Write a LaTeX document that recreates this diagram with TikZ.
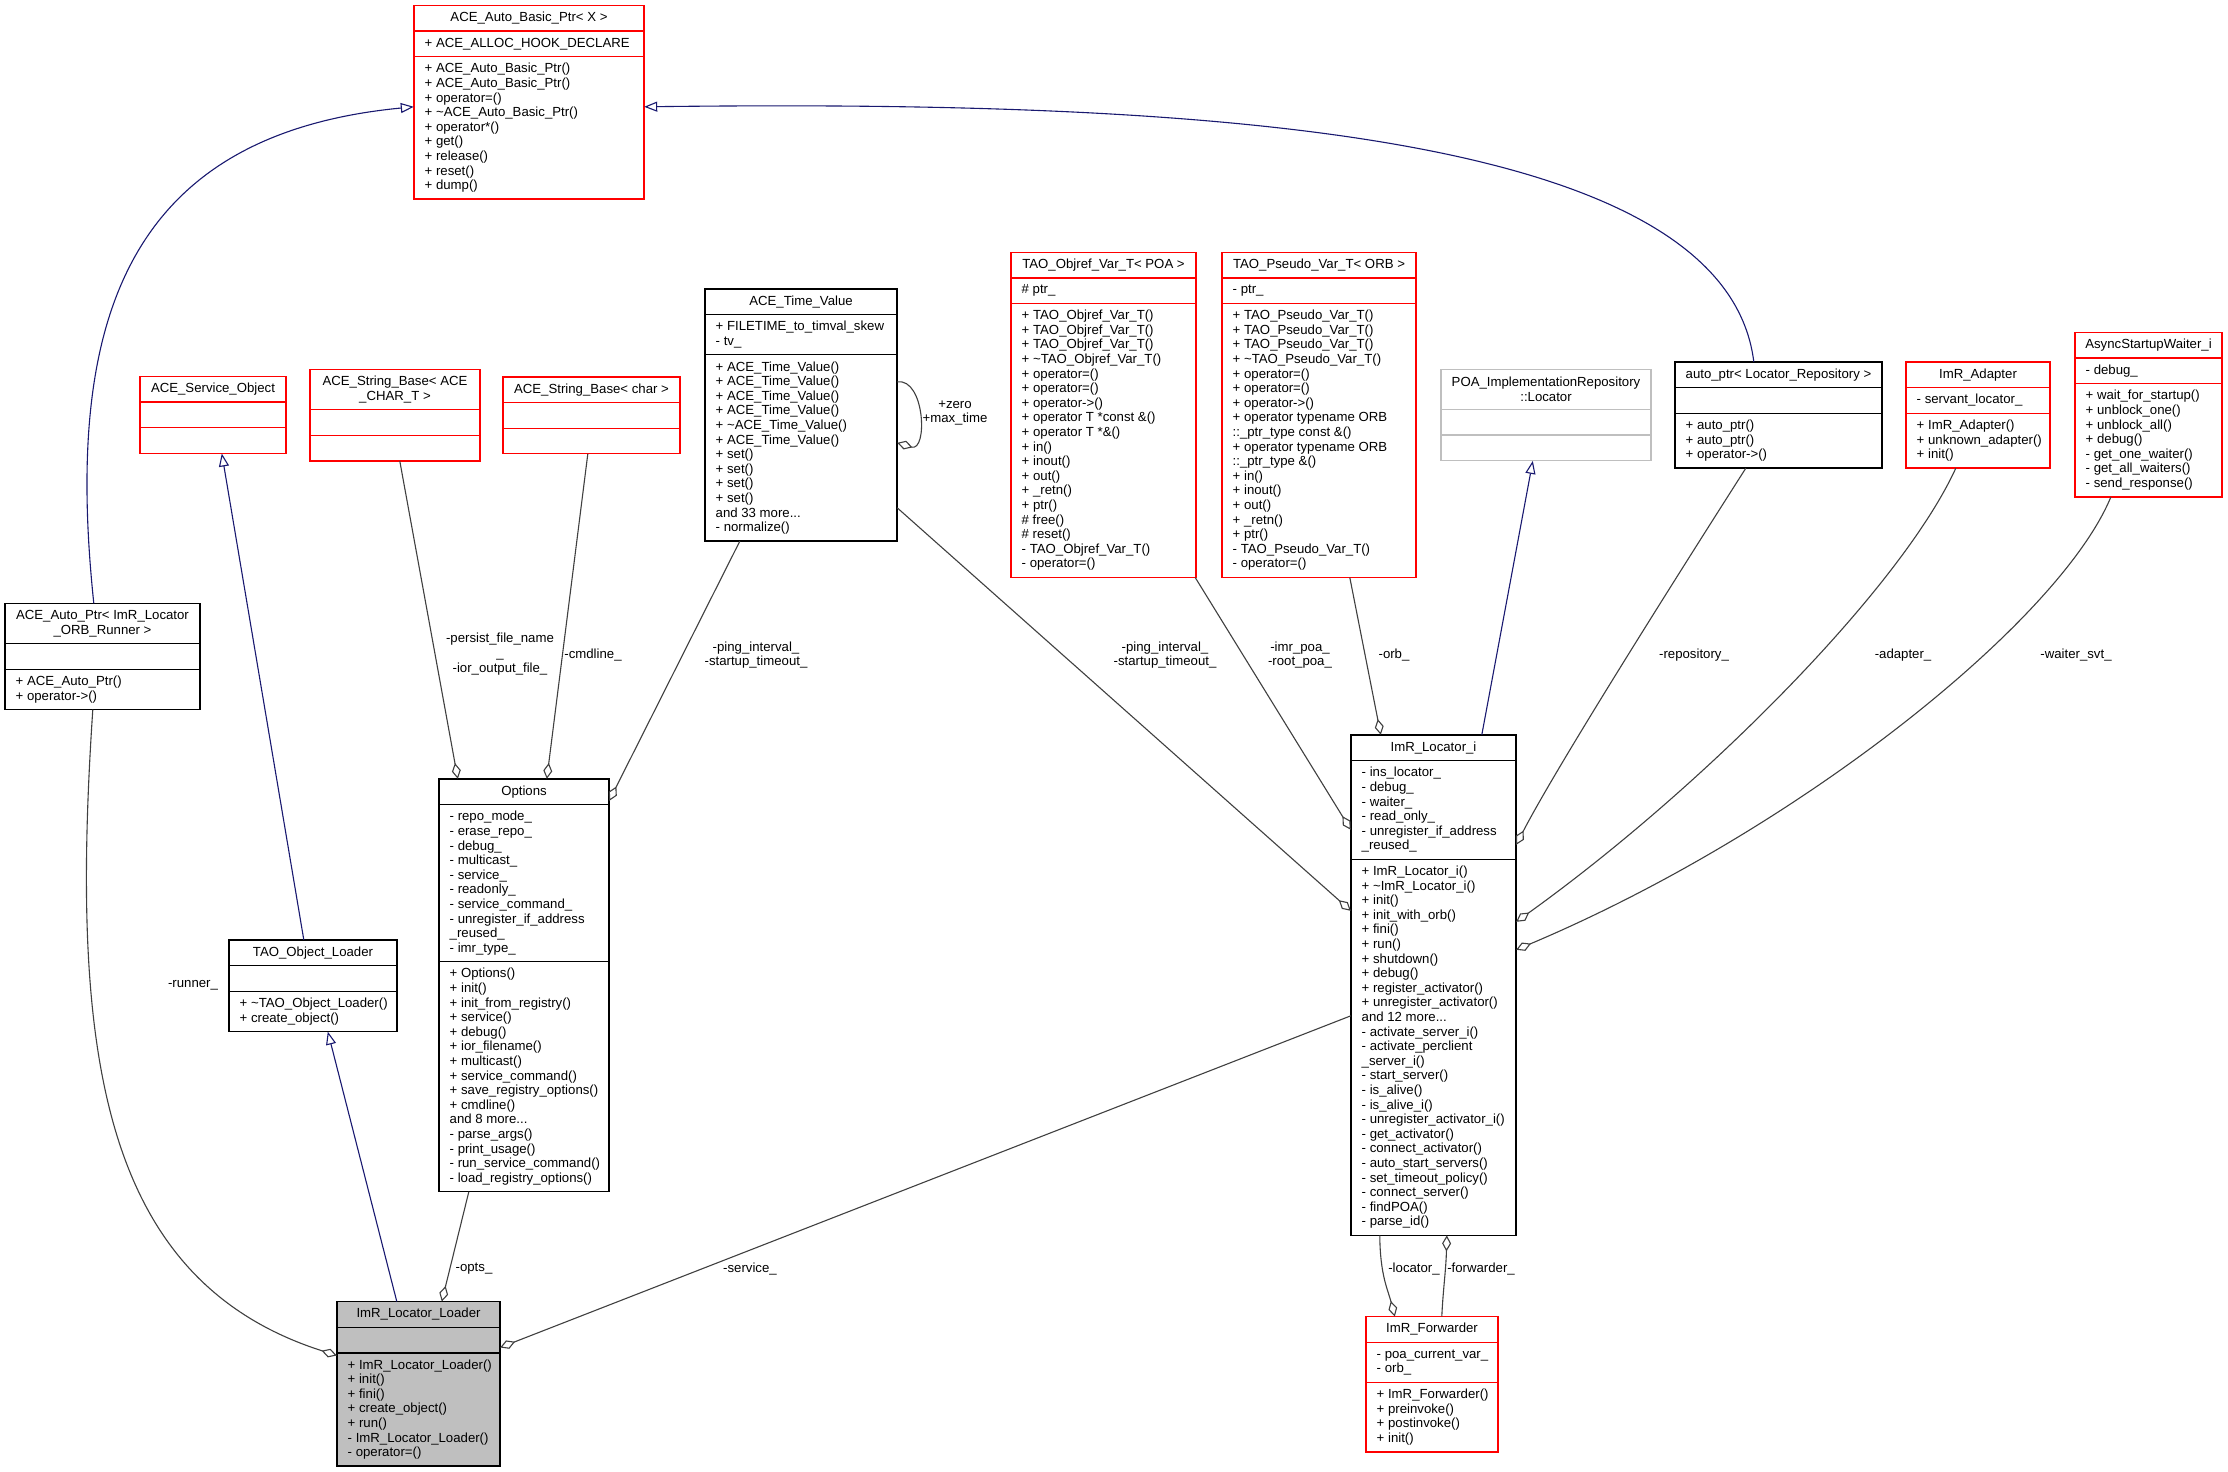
\documentclass[tikz,border=0pt]{standalone}
\usepackage{fontspec}
\setmainfont{Liberation Sans}
\usetikzlibrary{arrows.meta,calc,fit}
\definecolor{inhblue}{HTML}{191970}
\definecolor{usegray}{HTML}{404040}
\definecolor{dxred}{HTML}{FF0000}
\definecolor{dxgray}{HTML}{BFBFBF}
\def\parseH#1/#2/#3\relax{\def\nT{#1}\def\nA{#2}\def\nM{#3}}
% #1 name #2 style #3 x #4 y #5 width #6 line counts t/a/m #7 title #8 attributes #9 methods
\newcommand\klass[9]{%
  \parseH#6\relax
  \pgfmathsetmacro\hT{max(1,\nT)*14.6+11}%
  \pgfmathsetmacro\hA{max(1,\nA)*14.6+11}%
  \pgfmathsetmacro\hM{max(1,\nM)*14.6+11}%
  \node[kbox,#2,minimum width=#5,minimum height=\hT,anchor=north west] (#1-t) at (#3,#4) {};
  \node[ktext,align=center] (#1-tt) at (#1-t.center) {#7};
  \node[kbox,#2,minimum width=#5,minimum height=\hA,anchor=north west] (#1-a) at (#1-t.south west) {};
  \node[ktext,align=left,anchor=west] (#1-at) at ($(#1-a.west)+(10.5,0)$) {#8};
  \node[kbox,#2,minimum width=#5,minimum height=\hM,anchor=north west] (#1-m) at (#1-a.south west) {};
  \node[ktext,align=left,anchor=west] (#1-mt) at ($(#1-m.west)+(10.5,0)$) {#9};
  \node[fit=(#1-t)(#1-m),inner sep=0pt] (#1) {};
}
\begin{document}
\begin{tikzpicture}[x=1pt,y=-1pt,
  every node/.style={font=\fontsize{13.2}{14.6}\selectfont},
  kbox/.style={draw,line width=1.3pt,inner sep=0pt,outer sep=0pt},
  redbox/.style={draw=dxred},
  blackbox/.style={draw=black},
  graybox/.style={draw=dxgray},
  loaderbox/.style={draw=black,fill=dxgray},
  ktext/.style={inner sep=0pt,text=black},
  lbl/.style={inner sep=0pt,align=center,text=black},
  inheritedge/.style={draw=inhblue,line width=1.1pt,-{Triangle[open,length=13pt,width=10pt]}},
  memberedge/.style={draw=usegray,line width=1.1pt,-{Diamond[open,length=16pt,width=9pt]}}]
\useasboundingbox[fill=white] (0,0) rectangle (2228,1472);

\klass{aabp}{redbox}{414}{5.5}{230}{1/1/9}{ACE\_Auto\_Basic\_Ptr< X >}{+ ACE\_ALLOC\_HOOK\_DECLARE}{+ ACE\_Auto\_Basic\_Ptr()\\+ ACE\_Auto\_Basic\_Ptr()\\+ operator=()\\+ \textasciitilde ACE\_Auto\_Basic\_Ptr()\\+ operator*()\\+ get()\\+ release()\\+ reset()\\+ dump()}

\klass{aso}{redbox}{140}{376.5}{146}{1/0/0}{ACE\_Service\_Object}{}{}
\klass{asbA}{redbox}{310}{369.5}{170}{2/0/0}{ACE\_String\_Base< ACE\\\_CHAR\_T >}{}{}
\klass{asbc}{redbox}{503}{377}{177}{1/0/0}{ACE\_String\_Base< char >}{}{}

\klass{atv}{blackbox}{705}{289}{192}{1/2/12}{ACE\_Time\_Value}{+ FILETIME\_to\_timval\_skew\\- tv\_}{+ ACE\_Time\_Value()\\+ ACE\_Time\_Value()\\+ ACE\_Time\_Value()\\+ ACE\_Time\_Value()\\+ \textasciitilde ACE\_Time\_Value()\\+ ACE\_Time\_Value()\\+ set()\\+ set()\\+ set()\\+ set()\\and 33 more...\\- normalize()}

\klass{tov}{redbox}{1011}{252.3}{185}{1/1/18}{TAO\_Objref\_Var\_T< POA >}{\# ptr\_}{+ TAO\_Objref\_Var\_T()\\+ TAO\_Objref\_Var\_T()\\+ TAO\_Objref\_Var\_T()\\+ \textasciitilde TAO\_Objref\_Var\_T()\\+ operator=()\\+ operator=()\\+ operator->()\\+ operator T *const \&()\\+ operator T *\&()\\+ in()\\+ inout()\\+ out()\\+ \_retn()\\+ ptr()\\\# free()\\\# reset()\\- TAO\_Objref\_Var\_T()\\- operator=()}

\klass{tpv}{redbox}{1222}{252.3}{194}{1/1/18}{TAO\_Pseudo\_Var\_T< ORB >}{- ptr\_}{+ TAO\_Pseudo\_Var\_T()\\+ TAO\_Pseudo\_Var\_T()\\+ TAO\_Pseudo\_Var\_T()\\+ \textasciitilde TAO\_Pseudo\_Var\_T()\\+ operator=()\\+ operator=()\\+ operator->()\\+ operator typename ORB\\::\_ptr\_type const \&()\\+ operator typename ORB\\::\_ptr\_type \&()\\+ in()\\+ inout()\\+ out()\\+ \_retn()\\+ ptr()\\- TAO\_Pseudo\_Var\_T()\\- operator=()}

\klass{poa}{graybox}{1441}{369.3}{210}{2/0/0}{POA\_ImplementationRepository\\::Locator}{}{}
\klass{apr}{blackbox}{1675}{362}{207}{1/0/3}{auto\_ptr< Locator\_Repository >}{}{+ auto\_ptr()\\+ auto\_ptr()\\+ operator->()}
\klass{ada}{redbox}{1906}{362}{144}{1/1/3}{ImR\_Adapter}{- servant\_locator\_}{+ ImR\_Adapter()\\+ unknown\_adapter()\\+ init()}
\klass{asw}{redbox}{2075}{332.5}{147}{1/1/7}{AsyncStartupWaiter\_i}{- debug\_}{+ wait\_for\_startup()\\+ unblock\_one()\\+ unblock\_all()\\+ debug()\\- get\_one\_waiter()\\- get\_all\_waiters()\\- send\_response()}

\klass{aap}{blackbox}{5}{603.5}{195}{2/0/2}{ACE\_Auto\_Ptr< ImR\_Locator\\\_ORB\_Runner >}{}{+ ACE\_Auto\_Ptr()\\+ operator->()}
\klass{tol}{blackbox}{229}{940}{168}{1/0/2}{TAO\_Object\_Loader}{}{+ \textasciitilde TAO\_Object\_Loader()\\+ create\_object()}

\klass{opt}{blackbox}{439}{779}{170}{1/10/15}{Options}{- repo\_mode\_\\- erase\_repo\_\\- debug\_\\- multicast\_\\- service\_\\- readonly\_\\- service\_command\_\\- unregister\_if\_address\\\_reused\_\\- imr\_type\_}{+ Options()\\+ init()\\+ init\_from\_registry()\\+ service()\\+ debug()\\+ ior\_filename()\\+ multicast()\\+ service\_command()\\+ save\_registry\_options()\\+ cmdline()\\and 8 more...\\- parse\_args()\\- print\_usage()\\- run\_service\_command()\\- load\_registry\_options()}

\klass{lci}{blackbox}{1351}{735}{165}{1/6/25}{ImR\_Locator\_i}{- ins\_locator\_\\- debug\_\\- waiter\_\\- read\_only\_\\- unregister\_if\_address\\\_reused\_}{+ ImR\_Locator\_i()\\+ \textasciitilde ImR\_Locator\_i()\\+ init()\\+ init\_with\_orb()\\+ fini()\\+ run()\\+ shutdown()\\+ debug()\\+ register\_activator()\\+ unregister\_activator()\\and 12 more...\\- activate\_server\_i()\\- activate\_perclient\\\_server\_i()\\- start\_server()\\- is\_alive()\\- is\_alive\_i()\\- unregister\_activator\_i()\\- get\_activator()\\- connect\_activator()\\- auto\_start\_servers()\\- set\_timeout\_policy()\\- connect\_server()\\- findPOA()\\- parse\_id()}

\klass{lld}{loaderbox}{337}{1301.7}{163}{1/0/7}{ImR\_Locator\_Loader}{}{+ ImR\_Locator\_Loader()\\+ init()\\+ fini()\\+ create\_object()\\+ run()\\- ImR\_Locator\_Loader()\\- operator=()}

\klass{fwd}{redbox}{1366}{1316.7}{132}{1/2/4}{ImR\_Forwarder}{- poa\_current\_var\_\\- orb\_}{+ ImR\_Forwarder()\\+ preinvoke()\\+ postinvoke()\\+ init()}

% inheritance
\draw[inheritedge] ($(aap.north west)+(89,0)$) .. controls (65,330) and (120,135) .. ($(aabp.north west)+(0,101.5)$);
\draw[inheritedge] ($(apr.north west)+(79,0)$) .. controls (1725,130) and (1200,100) .. ($(aabp.north east)+(0,101.5)$);
\draw[inheritedge] ($(tol.north west)+(75,0)$) -- ($(aso.south west)+(82,0)$);
\draw[inheritedge] ($(lld.north west)+(60,0)$) -- ($(tol.south west)+(99,0)$);
\draw[inheritedge] ($(lci.north west)+(131,0)$) -- ($(poa.south west)+(92,0)$);

% members
\draw[memberedge] ($(aap.south west)+(88,0)$) .. controls (70,1050) and (100,1280) .. ($(lld.north west)+(0,54)$);
\draw[memberedge] ($(opt.south west)+(30,0)$) -- ($(lld.north west)+(105,0)$);
\draw[memberedge] ($(lci.north west)+(0,281)$) -- ($(lld.north east)+(0,46)$);
\draw[memberedge] ($(asbA.south west)+(90,0)$) -- ($(opt.north west)+(19,0)$);
\draw[memberedge] ($(asbc.south west)+(85,0)$) -- ($(opt.north west)+(108,0)$);
\draw[memberedge] ($(atv.south west)+(35,0)$) -- ($(opt.north east)+(0,22)$);
\draw[memberedge] ($(atv.north east)+(0,219)$) -- ($(lci.north west)+(0,176)$);
\draw[memberedge] ($(tov.south east)+(-1,0)$) -- ($(lci.north west)+(0,95)$);
\draw[memberedge] ($(tpv.south west)+(128,0)$) -- ($(lci.north west)+(30,0)$);
\draw[memberedge] ($(apr.south west)+(71,0)$) .. controls (1700,540) and (1560,760) .. ($(lci.north east)+(0,110)$);
\draw[memberedge] ($(ada.south west)+(50,0)$) .. controls (1900,590) and (1700,790) .. ($(lci.north east)+(0,187)$);
\draw[memberedge] ($(asw.south west)+(36,0)$) .. controls (2060,620) and (1800,830) .. ($(lci.north east)+(0,215)$);
\draw[memberedge] ($(lci.south west)+(29,0)$) .. controls (1380,1275) and (1388,1290) .. ($(fwd.north west)+(29,0)$);
\draw[memberedge] ($(fwd.north west)+(76,0)$) .. controls (1443,1290) and (1446,1270) .. ($(lci.south west)+(96,0)$);
\draw[memberedge] ($(atv.north east)+(0,93)$) .. controls (925,378) and (928,452) .. ($(atv.north east)+(0,154)$);

% labels
\node[lbl] (l-runner) at (193,985) {-runner\_};
\node[lbl] (l-opts) at (474,1269) {-opts\_};
\node[lbl] (l-service) at (750,1269) {-service\_};
\node[lbl] (l-persist) at (500,654) {-persist\_file\_name\\\_\\-ior\_output\_file\_};
\node[lbl] (l-cmdline) at (593,655) {-cmdline\_};
\node[lbl] (l-ping1) at (756,655) {-ping\_interval\_\\-startup\_timeout\_};
\node[lbl] (l-ping2) at (1165,655) {-ping\_interval\_\\-startup\_timeout\_};
\node[lbl] (l-poa) at (1300,655) {-imr\_poa\_\\-root\_poa\_};
\node[lbl] (l-orb) at (1394,655) {-orb\_};
\node[lbl] (l-repo) at (1694,655) {-repository\_};
\node[lbl] (l-adapter) at (1903,655) {-adapter\_};
\node[lbl] (l-waiter) at (2076,655) {-waiter\_svt\_};
\node[lbl] (l-locator) at (1414,1269) {-locator\_};
\node[lbl] (l-forwarder) at (1481,1269) {-forwarder\_};
\node[lbl] (l-zero) at (955,413) {+zero\\+max\_time};
\end{tikzpicture}
\end{document}
